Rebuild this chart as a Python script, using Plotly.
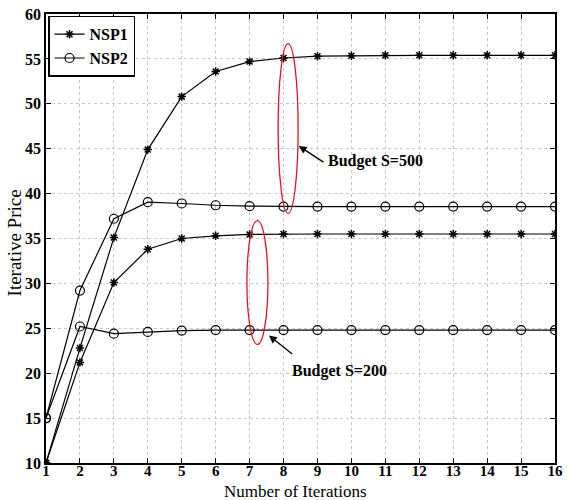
import plotly.graph_objects as go

iterations = list(range(1, 17))

# Budget S=500
nsp1_s500 = [10, 22.8, 35.1, 44.9, 50.8, 53.6, 54.7, 55.1, 55.3, 55.35, 55.4, 55.4, 55.4, 55.4, 55.4, 55.4]
nsp2_s500 = [15, 29.2, 37.2, 39.05, 38.9, 38.7, 38.6, 38.55, 38.55, 38.55, 38.55, 38.55, 38.55, 38.55, 38.55, 38.55]
# Budget S=200
nsp1_s200 = [10, 21.2, 30.1, 33.8, 35.0, 35.3, 35.45, 35.5, 35.5, 35.5, 35.5, 35.5, 35.5, 35.5, 35.5, 35.5]
nsp2_s200 = [15, 25.2, 24.4, 24.6, 24.75, 24.8, 24.8, 24.8, 24.8, 24.8, 24.8, 24.8, 24.8, 24.8, 24.8, 24.8]

x_ticks = list(range(1, 17))
y_ticks = list(range(10, 61, 5))

FONT = "Liberation Serif"

fig = go.Figure()

star = dict(symbol="asterisk-open", size=7, color="black", line=dict(color="black", width=1.5))
circ = dict(symbol="circle-open", size=9, color="black", line=dict(color="black", width=1.2))

fig.add_trace(go.Scatter(x=iterations, y=nsp1_s500, mode="lines+markers", name="NSP1",
                         line=dict(color="black", width=1.2), marker=star))
fig.add_trace(go.Scatter(x=iterations, y=nsp2_s500, mode="lines+markers", name="NSP2",
                         line=dict(color="black", width=1.2), marker=circ))
fig.add_trace(go.Scatter(x=iterations, y=nsp1_s200, mode="lines+markers", name="NSP1",
                         line=dict(color="black", width=1.2), marker=star, showlegend=False))
fig.add_trace(go.Scatter(x=iterations, y=nsp2_s200, mode="lines+markers", name="NSP2",
                         line=dict(color="black", width=1.2), marker=circ, showlegend=False))

# Red ellipses grouping the converged values per budget
fig.add_shape(type="circle", xref="x", yref="y", x0=7.84, x1=8.43, y0=37.8, y1=56.7,
              line=dict(color="#e8141c", width=1.3))
fig.add_shape(type="circle", xref="x", yref="y", x0=6.92, x1=7.54, y0=23.2, y1=37.0,
              line=dict(color="#e8141c", width=1.3))

fig.add_annotation(x=8.45, y=45.3, ax=9.22, ay=43.4, xref="x", yref="y", axref="x", ayref="y",
                   showarrow=True, arrowhead=2, arrowsize=1.2, arrowwidth=1.3, arrowcolor="black", text="")
fig.add_annotation(x=9.25, y=43.6, xref="x", yref="y", text="Budget S=500", showarrow=False,
                   xanchor="left", font=dict(family=FONT, size=16, color="black", weight="bold"))
fig.add_annotation(x=7.57, y=24.2, ax=8.3, ay=22.0, xref="x", yref="y", axref="x", ayref="y",
                   showarrow=True, arrowhead=2, arrowsize=1.2, arrowwidth=1.3, arrowcolor="black", text="")
fig.add_annotation(x=8.2, y=20.3, xref="x", yref="y", text="Budget S=200", showarrow=False,
                   xanchor="left", font=dict(family=FONT, size=16, color="black", weight="bold"))

# Axis titles, set just outside the tick labels
fig.add_annotation(x=0.49, y=-0.0645, xref="paper", yref="paper", text="Number of Iterations",
                   showarrow=False, xanchor="center", yanchor="middle",
                   font=dict(family=FONT, size=17, color="black"))
fig.add_annotation(x=-0.06, y=0.49, xref="paper", yref="paper", text="Iterative Price",
                   showarrow=False, xanchor="center", yanchor="middle", textangle=-90,
                   font=dict(family=FONT, size=19, color="black"))

axis_common = dict(showline=True, linecolor="black", linewidth=1.5, mirror="ticks",
                   ticks="inside", ticklen=5, tickcolor="black",
                   showgrid=True, gridcolor="#c8c8c8", griddash="dot", gridwidth=1,
                   zeroline=False, automargin=False,
                   tickfont=dict(family=FONT, size=16, color="black", weight="bold"))

fig.update_xaxes(range=[1, 16], tickvals=x_ticks, ticklabelstandoff=-7,
                 **{**axis_common, "tickfont": dict(family=FONT, size=15, color="black", weight="bold")})
fig.update_yaxes(range=[10, 60], tickvals=y_ticks, ticklabelstandoff=0, **axis_common)

fig.update_layout(
    width=570, height=500,
    margin=dict(l=46, r=15, t=14, b=37),
    plot_bgcolor="white", paper_bgcolor="white",
    showlegend=True,
    legend=dict(x=0.004, y=0.996, xanchor="left", yanchor="top",
                bgcolor="white", bordercolor="black", borderwidth=1.5,
                font=dict(family=FONT, size=16, color="black", weight="bold"),
                tracegroupgap=0, itemwidth=30),
)

fig.write_html("out.html")
